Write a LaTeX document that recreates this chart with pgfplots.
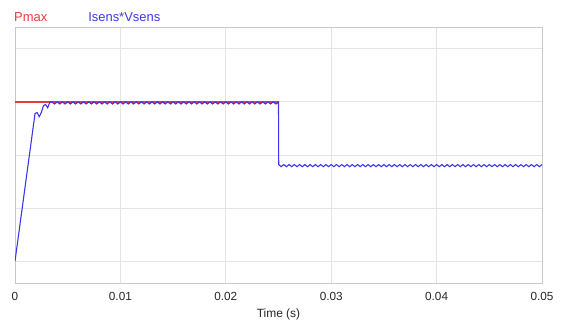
\documentclass[border=0pt]{standalone}
\usepackage{pgfplots}
\pgfplotsset{compat=1.18}
\usepackage{fontspec}
\setmainfont{Liberation Sans}
\definecolor{pmaxred}{RGB}{232,58,58}
\definecolor{sensblue}{RGB}{60,55,230}
\definecolor{gridc}{RGB}{228,228,228}
\definecolor{boxc}{RGB}{200,200,200}
\begin{document}
\begin{tikzpicture}[x=1bp,y=1bp]
\path[use as bounding box] (0,0) rectangle (565,325);
\begin{axis}[
  at={(15bp,42bp)}, anchor=south west,
  scale only axis, width=527bp, height=256bp,
  xmin=0, xmax=0.05, ymin=-0.41, ymax=4.41,
  scaled x ticks=false,
  xtick={0,0.01,0.02,0.03,0.04,0.05},
  xticklabels={0,0.01,0.02,0.03,0.04,0.05},
  ytick={0,1,2,3,4}, yticklabels={},
  major tick length=0pt,
  grid=major, major grid style={gridc, line width=0.8pt},
  axis line style={boxc, line width=1pt},
  ticklabel style={font=\fontsize{11.8}{13}\selectfont, text=black!85},
  xticklabel style={yshift=-6bp},
  xlabel={Time (s)}, xlabel style={font=\fontsize{12}{13}\selectfont, yshift=-1bp, text=black!85},
  legend style={draw=none, fill=none, at={(0,1)}, anchor=south west, xshift=-6bp, yshift=0bp,
    legend columns=2, font=\fontsize{13}{15}\selectfont,
    /tikz/every even column/.style={column sep=37bp}},
  legend image code/.code={},
]
\addplot[draw=pmaxred, mark=none, line width=1.3pt] table {
t p
0 3
0.025 3
};
\addlegendentry{\textcolor{pmaxred}{Pmax}}
\addplot[draw=sensblue, mark=none, line width=1.1pt] coordinates {
(0,0)(0.0019,2.78)(0.0021,2.80)(0.0023,2.72)(0.0025,2.80)(0.0027,2.93)(0.0029,2.95)(0.0031,2.89)(0.0033,2.99)
(0.0035,3)(0.00375,2.96)
(0.004,3)(0.00425,2.96)(0.0045,3)(0.00475,2.96)
(0.005,3)(0.00525,2.96)(0.0055,3)(0.00575,2.96)
(0.006,3)(0.00625,2.96)(0.0065,3)(0.00675,2.96)
(0.007,3)(0.00725,2.96)(0.0075,3)(0.00775,2.96)
(0.008,3)(0.00825,2.96)(0.0085,3)(0.00875,2.96)
(0.009,3)(0.00925,2.96)(0.0095,3)(0.00975,2.96)
(0.010,3)(0.01025,2.96)(0.0105,3)(0.01075,2.96)
(0.011,3)(0.01125,2.96)(0.0115,3)(0.01175,2.96)
(0.012,3)(0.01225,2.96)(0.0125,3)(0.01275,2.96)
(0.013,3)(0.01325,2.96)(0.0135,3)(0.01375,2.96)
(0.014,3)(0.01425,2.96)(0.0145,3)(0.01475,2.96)
(0.015,3)(0.01525,2.96)(0.0155,3)(0.01575,2.96)
(0.016,3)(0.01625,2.96)(0.0165,3)(0.01675,2.96)
(0.017,3)(0.01725,2.96)(0.0175,3)(0.01775,2.96)
(0.018,3)(0.01825,2.96)(0.0185,3)(0.01875,2.96)
(0.019,3)(0.01925,2.96)(0.0195,3)(0.01975,2.96)
(0.020,3)(0.02025,2.96)(0.0205,3)(0.02075,2.96)
(0.021,3)(0.02125,2.96)(0.0215,3)(0.02175,2.96)
(0.022,3)(0.02225,2.96)(0.0225,3)(0.02275,2.96)
(0.023,3)(0.02325,2.96)(0.0235,3)(0.02375,2.96)
(0.024,3)(0.02425,2.96)(0.0245,3)(0.02475,2.96)
(0.025,3)(0.02502,1.82)
(0.02525,1.78)(0.0255,1.82)(0.02575,1.78)
(0.026,1.82)(0.02625,1.78)(0.0265,1.82)(0.02675,1.78)
(0.027,1.82)(0.02725,1.78)(0.0275,1.82)(0.02775,1.78)
(0.028,1.82)(0.02825,1.78)(0.0285,1.82)(0.02875,1.78)
(0.029,1.82)(0.02925,1.78)(0.0295,1.82)(0.02975,1.78)
(0.030,1.82)(0.03025,1.78)(0.0305,1.82)(0.03075,1.78)
(0.031,1.82)(0.03125,1.78)(0.0315,1.82)(0.03175,1.78)
(0.032,1.82)(0.03225,1.78)(0.0325,1.82)(0.03275,1.78)
(0.033,1.82)(0.03325,1.78)(0.0335,1.82)(0.03375,1.78)
(0.034,1.82)(0.03425,1.78)(0.0345,1.82)(0.03475,1.78)
(0.035,1.82)(0.03525,1.78)(0.0355,1.82)(0.03575,1.78)
(0.036,1.82)(0.03625,1.78)(0.0365,1.82)(0.03675,1.78)
(0.037,1.82)(0.03725,1.78)(0.0375,1.82)(0.03775,1.78)
(0.038,1.82)(0.03825,1.78)(0.0385,1.82)(0.03875,1.78)
(0.039,1.82)(0.03925,1.78)(0.0395,1.82)(0.03975,1.78)
(0.040,1.82)(0.04025,1.78)(0.0405,1.82)(0.04075,1.78)
(0.041,1.82)(0.04125,1.78)(0.0415,1.82)(0.04175,1.78)
(0.042,1.82)(0.04225,1.78)(0.0425,1.82)(0.04275,1.78)
(0.043,1.82)(0.04325,1.78)(0.0435,1.82)(0.04375,1.78)
(0.044,1.82)(0.04425,1.78)(0.0445,1.82)(0.04475,1.78)
(0.045,1.82)(0.04525,1.78)(0.0455,1.82)(0.04575,1.78)
(0.046,1.82)(0.04625,1.78)(0.0465,1.82)(0.04675,1.78)
(0.047,1.82)(0.04725,1.78)(0.0475,1.82)(0.04775,1.78)
(0.048,1.82)(0.04825,1.78)(0.0485,1.82)(0.04875,1.78)
(0.049,1.82)(0.04925,1.78)(0.0495,1.82)(0.04975,1.78)
(0.05,1.82)};
\addlegendentry{\textcolor{sensblue}{Isens*Vsens}}
\end{axis}
\end{tikzpicture}
\end{document}
